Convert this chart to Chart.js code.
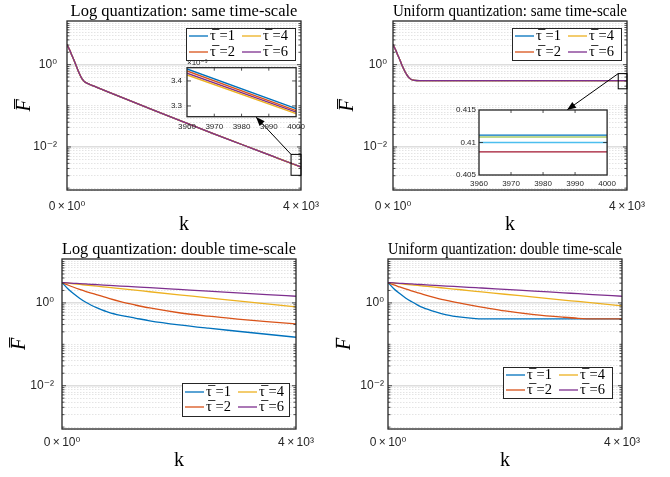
<!DOCTYPE html>
<html>
<head>
<meta charset="utf-8">
<title>Log vs uniform quantization</title>
<script src="https://cdn.jsdelivr.net/npm/chart.js@4.4.0/dist/chart.umd.min.js"></script>
<style>
  body { margin: 0; background: #fff; }
  #wrap { position: relative; width: 670px; height: 477px; overflow: hidden; }
  #wrap canvas { position: absolute; }
</style>
</head>
<body>
<div id="wrap">
  <canvas id="tl" width="335" height="240" style="left:0;top:0"></canvas>
  <canvas id="tr" width="335" height="240" style="left:335px;top:0"></canvas>
  <canvas id="bl" width="335" height="237" style="left:0;top:240px"></canvas>
  <canvas id="br" width="335" height="237" style="left:335px;top:240px"></canvas>
  <canvas id="tlInset" width="170" height="85" style="left:140px;top:52px"></canvas>
  <canvas id="trInset" width="190" height="92" style="left:430px;top:100px"></canvas>
</div>
<script>
// ---- data ----
const tauLabels = ['\u03C4\u0305 =1', '\u03C4\u0305 =2', '\u03C4\u0305 =4', '\u03C4\u0305 =6'];
const titles = ['Log quantization: same time-scale', 'Uniform quantization: same time-scale',
                'Log quantization: double time-scale', 'Uniform quantization: double time-scale'];

const xTickValues = [0, 4000];
const xTickLabels = ['0\u2009\u00D7\u200910\u2070', '4\u2009\u00D7\u200910\u00B3'];
const yMajor = [0.01, 1];
const yMajorLabels = ['10\u207B\u00B2', '10\u2070'];

// log quantization, same time-scale
const kLogSame = [0, 25, 50, 75, 100, 125, 150, 175, 200, 225, 250, 275, 300, 350, 400, 500, 700, 1000, 1500, 2000, 2500, 3000, 3500, 3960, 4000];
const logSame1 = [3.1, 2.6, 2.2, 1.8, 1.5, 1.22, 1.0, 0.81, 0.66, 0.55, 0.47, 0.42, 0.385, 0.35, 0.325, 0.285, 0.218, 0.1466, 0.0762, 0.0400, 0.0212, 0.01132, 0.00609, 0.003448, 0.003289];
const logSame2 = [3.1, 2.6, 2.2, 1.8, 1.5, 1.22, 1.0, 0.81, 0.66, 0.55, 0.47, 0.42, 0.385, 0.35, 0.325, 0.285, 0.218, 0.1466, 0.0762, 0.0400, 0.0212, 0.01132, 0.00607, 0.003440, 0.003281];
const logSame4 = [3.1, 2.6, 2.2, 1.8, 1.5, 1.22, 1.0, 0.81, 0.66, 0.55, 0.47, 0.42, 0.385, 0.35, 0.325, 0.285, 0.218, 0.1466, 0.0762, 0.0400, 0.0212, 0.01132, 0.00604, 0.003424, 0.003269];
const logSame6 = [3.1, 2.6, 2.2, 1.8, 1.5, 1.22, 1.0, 0.81, 0.66, 0.55, 0.47, 0.42, 0.385, 0.35, 0.325, 0.285, 0.218, 0.1466, 0.0762, 0.0400, 0.0212, 0.01132, 0.00605, 0.003431, 0.003275];

// uniform quantization, same time-scale
const kUniSame = [0, 25, 50, 75, 100, 125, 150, 175, 200, 225, 250, 275, 300, 325, 350, 375, 400, 450, 1000, 2000, 3000, 3960, 4000];
const uniSame1 = [3.1, 2.6, 2.2, 1.8, 1.5, 1.22, 1.0, 0.83, 0.7, 0.6, 0.53, 0.48, 0.45, 0.43, 0.42, 0.4145, 0.4118, 0.41115, 0.41115, 0.41115, 0.41115, 0.41115, 0.41115];
const uniSame2 = [3.1, 2.6, 2.2, 1.8, 1.5, 1.22, 1.0, 0.83, 0.7, 0.6, 0.53, 0.48, 0.45, 0.43, 0.42, 0.4142, 0.4115, 0.41085, 0.41085, 0.41085, 0.41085, 0.41085, 0.41085];
const uniSame4 = [3.1, 2.6, 2.2, 1.8, 1.5, 1.22, 1.0, 0.83, 0.7, 0.6, 0.53, 0.48, 0.45, 0.43, 0.42, 0.4135, 0.4107, 0.41000, 0.41000, 0.41000, 0.41000, 0.41000, 0.41000];
const uniSame6 = [3.1, 2.6, 2.2, 1.8, 1.5, 1.22, 1.0, 0.83, 0.7, 0.6, 0.53, 0.48, 0.45, 0.43, 0.42, 0.4125, 0.4094, 0.40855, 0.40855, 0.40855, 0.40855, 0.40855, 0.40855];

// log quantization, double time-scale
const kLogDouble = [0, 100, 200, 300, 400, 500, 600, 800, 1000, 1250, 1500, 2000, 2500, 3000, 3500, 4000];
const logDouble1 = [3.1, 2.2, 1.66, 1.3, 1.05, 0.88, 0.76, 0.59, 0.50, 0.43, 0.37, 0.295, 0.245, 0.207, 0.175, 0.148];
const logDouble2 = [3.1, 2.71, 2.39, 2.13, 1.91, 1.73, 1.56, 1.28, 1.07, 0.89, 0.755, 0.579, 0.477, 0.406, 0.352, 0.31];
const logDouble4 = [3.1, 3.0, 2.9, 2.8, 2.71, 2.62, 2.53, 2.37, 2.21, 2.03, 1.86, 1.57, 1.33, 1.12, 0.95, 0.8];
const logDouble6 = [3.1, 3.04, 2.98, 2.93, 2.87, 2.81, 2.76, 2.65, 2.55, 2.445, 2.33, 2.12, 1.93, 1.75, 1.59, 1.45];

// uniform quantization, double time-scale
const kUniDouble = [0, 100, 200, 300, 400, 500, 600, 800, 1000, 1250, 1500, 1600, 2000, 2500, 3000, 3250, 3500, 4000];
const uniDouble1 = [3.1, 2.2, 1.68, 1.32, 1.08, 0.9, 0.77, 0.615, 0.515, 0.452, 0.418, 0.412, 0.41, 0.41, 0.41, 0.41, 0.41, 0.41];
const uniDouble2 = [3.1, 2.72, 2.43, 2.17, 1.95, 1.77, 1.61, 1.35, 1.15, 0.975, 0.84, 0.795, 0.64, 0.52, 0.45, 0.425, 0.412, 0.41];
const uniDouble4 = [3.1, 3.0, 2.91, 2.82, 2.73, 2.64, 2.56, 2.41, 2.25, 2.08, 1.91, 1.85, 1.62, 1.38, 1.17, 1.085, 1.0, 0.85];
const uniDouble6 = [3.1, 3.04, 2.98, 2.93, 2.87, 2.81, 2.76, 2.65, 2.55, 2.445, 2.33, 2.29, 2.12, 1.93, 1.75, 1.67, 1.59, 1.45];

// zoom boxes [kMin, kMax, yMin, yMax] and inset axes
const zoomLogSame = [3830, 4000, 0.00205, 0.0066];
const zoomUniSame = [3850, 4000, 0.259, 0.606];
const insetXTicks = [3960, 3970, 3980, 3990, 4000];
const insetXLabels = ['3960', '3970', '3980', '3990', '4000'];
const insetLogYTicks = [0.0033, 0.0034];
const insetLogYLabels = ['3.3', '3.4'];
const insetUniYTicks = [0.405, 0.41, 0.415];
const insetUniYLabels = ['0.405', '0.41', '0.415'];

const COLORS = ['#0072BD', '#D95319', '#EDB120', '#7E2F8E'];
const INSET_UNI_COLORS = ['#0072BD', '#A9CB6A', '#4DBEEE', '#A2142F'];
const Y_MIN = 9e-4, Y_MAX = 11.5;
const SERIF = '"Liberation Serif", "DejaVu Serif", serif';
const SANS = '"Liberation Sans", "DejaVu Sans", Arial, sans-serif';
const AXIS = '#262626';
const TITLE_SIZE = 16.5, TITLE_LH = 18;

function pts(ks, vs) { return ks.map((k, i) => ({ x: k, y: vs[i] })); }
function majorIndex(v) { return yMajor.findIndex(m => Math.abs(m - v) < m * 1e-6); }
function logGrid(min, max) {
  const out = [];
  for (let e = -4; e <= 1; e++) for (let m = 1; m <= 9; m++) {
    const v = m * Math.pow(10, e);
    if (v >= min && v <= max) out.push({ value: v });
  }
  return out;
}

// ---- plugins ----
const frameBox = {
  id: 'frameBox',
  beforeDraw(chart, args, o) {
    if (!o.fill) return;
    const a = chart.chartArea, c = chart.ctx;
    c.save(); c.fillStyle = '#fff';
    c.fillRect(a.left, a.top, a.right - a.left, a.bottom - a.top);
    c.restore();
  },
  afterDatasetsDraw(chart, args, o) {
    const a = chart.chartArea, c = chart.ctx;
    c.save();
    c.strokeStyle = AXIS; c.lineWidth = 0.8;
    c.beginPath();
    const ys = chart.scales.y;
    ys.ticks.forEach(t => {
      const y = ys.getPixelForValue(t.value);
      if (y < a.top + 1 || y > a.bottom - 1) return;
      const len = t.label ? 4 : 2.5;
      c.moveTo(a.left, y); c.lineTo(a.left + len, y);
      c.moveTo(a.right, y); c.lineTo(a.right - len, y);
    });
    if (o.xTicks) {
      const xs = chart.scales.x;
      xs.ticks.forEach(t => {
        const x = xs.getPixelForValue(t.value);
        if (x < a.left + 1 || x > a.right - 1) return;
        c.moveTo(x, a.bottom); c.lineTo(x, a.bottom - 3);
        c.moveTo(x, a.top); c.lineTo(x, a.top + 3);
      });
    }
    c.stroke();
    c.lineWidth = 1.3;
    c.strokeRect(a.left, a.top, a.right - a.left, a.bottom - a.top);
    c.restore();
  }
};

const zoomMark = {
  id: 'zoomMark',
  afterDraw(chart, args, o) {
    if (!o.rect) return;
    const c = chart.ctx, xs = chart.scales.x, ys = chart.scales.y;
    const x1 = xs.getPixelForValue(o.rect[0]), x2 = xs.getPixelForValue(o.rect[1]);
    const y1 = ys.getPixelForValue(o.rect[3]), y2 = ys.getPixelForValue(o.rect[2]);
    c.save();
    c.strokeStyle = '#000'; c.lineWidth = 1;
    c.strokeRect(x1, y1, x2 - x1, y2 - y1);
    const [ax, ay] = o.arrowTo;
    c.beginPath(); c.moveTo(x1, y1); c.lineTo(ax, ay); c.stroke();
    const ang = Math.atan2(ay - y1, ax - x1);
    c.fillStyle = '#000';
    c.beginPath();
    c.moveTo(ax, ay);
    c.lineTo(ax - 9 * Math.cos(ang) + 3.5 * Math.sin(ang), ay - 9 * Math.sin(ang) - 3.5 * Math.cos(ang));
    c.lineTo(ax - 9 * Math.cos(ang) - 3.5 * Math.sin(ang), ay - 9 * Math.sin(ang) + 3.5 * Math.cos(ang));
    c.closePath(); c.fill();
    c.restore();
  }
};

const boxLegend = {
  id: 'boxLegend',
  afterDraw(chart, args, o) {
    if (!o.w) return;
    const c = chart.ctx;
    c.save();
    c.fillStyle = '#fff'; c.fillRect(o.x, o.y, o.w, o.h);
    c.strokeStyle = AXIS; c.lineWidth = 1;
    c.strokeRect(o.x + 0.5, o.y + 0.5, o.w, o.h);
    c.font = '14.5px ' + SERIF; c.textBaseline = 'middle';
    chart.data.datasets.forEach((d, i) => {
      const x0 = o.x + 3 + Math.floor(i / 2) * 53;
      const y0 = o.y + o.rows[i % 2];
      c.strokeStyle = d.borderColor; c.lineWidth = 1.3;
      c.beginPath(); c.moveTo(x0, y0); c.lineTo(x0 + 19, y0); c.stroke();
      c.fillStyle = '#000';
      c.fillText(d.label, x0 + 21, y0);
    });
    c.restore();
  }
};

// ---- charts ----
function mainChart(id, g, title, ks, series, mark) {
  return new Chart(document.getElementById(id), {
    type: 'line',
    data: {
      datasets: series.map((s, i) => ({
        label: tauLabels[i], data: pts(ks, s), borderColor: COLORS[i], backgroundColor: COLORS[i],
        borderWidth: 1.3, pointRadius: 0, cubicInterpolationMode: 'monotone', fill: false,
        order: series.length - i
      }))
    },
    options: {
      responsive: false, animation: false, events: [],
      layout: { padding: { left: 0, top: 0, right: g.W - g.right, bottom: 0 } },
      plugins: {
        legend: { display: false }, tooltip: { enabled: false },
        title: {
          display: true, text: title, fullSize: false, color: '#000',
          font: { family: SERIF, size: TITLE_SIZE, weight: 'normal', lineHeight: TITLE_LH / TITLE_SIZE },
          padding: { top: g.top - TITLE_LH - 0.5, bottom: 0.5 }
        },
        frameBox: {}, boxLegend: g.legend, zoomMark: mark || {}
      },
      scales: {
        x: {
          type: 'linear', min: 0, max: 4000,
          afterBuildTicks: s => { s.ticks = xTickValues.map(v => ({ value: v })); },
          afterFit: s => { s.height = g.H - g.bottom; },
          grid: { display: false, drawTicks: false }, border: { display: false },
          ticks: { padding: g.xPad, color: AXIS, autoSkip: false, maxRotation: 0,
                   font: { family: SANS, size: 12 }, callback: (v, i) => xTickLabels[i] },
          title: { display: true, text: 'k', color: '#000', font: { family: SERIF, size: 20, lineHeight: 1.2 },
                   padding: { top: 0, bottom: g.kPad } }
        },
        y: {
          type: 'logarithmic', min: Y_MIN, max: Y_MAX,
          afterBuildTicks: s => { s.ticks = logGrid(Y_MIN, Y_MAX); },
          afterFit: s => { s.width = g.left; },
          grid: {
            drawTicks: false,
            color: ctx => (ctx.tick && majorIndex(ctx.tick.value) >= 0) ? '#dedede' : '#e4e4e4',
            lineWidth: ctx => (ctx.tick && majorIndex(ctx.tick.value) >= 0) ? 1.5 : 1
          },
          border: { display: false, dash: ctx => (ctx.tick && majorIndex(ctx.tick.value) < 0) ? [1.5, 1.5] : [] },
          ticks: { padding: g.yPad, color: AXIS, autoSkip: false, font: { family: SANS, size: 12 },
                   callback: v => { const i = majorIndex(v); return i >= 0 ? yMajorLabels[i] : ''; } },
          title: { display: true, text: 'F\u0305', color: '#000',
                   font: { family: SERIF, size: 20, style: 'italic', lineHeight: 1 },
                   padding: { top: g.yTitlePad, bottom: 0 } }
        }
      }
    },
    plugins: [frameBox, boxLegend, zoomMark]
  });
}

function insetChart(id, g, ks, series, colors, yr, yTicks, yLabels, expText) {
  return new Chart(document.getElementById(id), {
    type: 'line',
    data: {
      datasets: series.map((s, i) => ({
        label: tauLabels[i], data: pts(ks, s), borderColor: colors[i],
        borderWidth: 1.3, pointRadius: 0, fill: false
      }))
    },
    options: {
      responsive: false, animation: false, events: [],
      layout: { padding: { left: 0, top: expText ? 0 : g.top, right: g.W - g.right, bottom: 0 } },
      plugins: {
        legend: { display: false }, tooltip: { enabled: false },
        title: {
          display: !!expText, text: expText || '', align: 'start', fullSize: false, color: AXIS,
          font: { family: SANS, size: 8, weight: 'normal', lineHeight: 1.2 },
          padding: { top: g.top - 9.6, bottom: 0 }
        },
        frameBox: { fill: true, xTicks: true }
      },
      scales: {
        x: {
          type: 'linear', min: insetXTicks[0], max: insetXTicks[insetXTicks.length - 1],
          afterBuildTicks: s => { s.ticks = insetXTicks.map(v => ({ value: v })); },
          afterFit: s => { s.height = g.H - g.bottom; },
          grid: { display: false, drawTicks: false }, border: { display: false },
          ticks: { padding: g.xPad, color: AXIS, autoSkip: false, maxRotation: 0,
                   font: { family: SANS, size: 8 }, callback: (v, i) => insetXLabels[i] }
        },
        y: {
          type: 'linear', min: yr[0], max: yr[1],
          afterBuildTicks: s => { s.ticks = yTicks.map(v => ({ value: v })); },
          afterFit: s => { s.width = g.left; },
          grid: { display: false, drawTicks: false }, border: { display: false },
          ticks: { padding: g.yPad, color: AXIS, autoSkip: false,
                   font: { family: SANS, size: 8 }, callback: (v, i) => yLabels[i] }
        }
      }
    },
    plugins: [frameBox]
  });
}

mainChart('tl', { W: 335, H: 240, left: 67, top: 21, right: 301, bottom: 190, yPad: 10, yTitlePad: 15, xPad: 9, kPad: 3,
                  legend: { x: 186, y: 28, w: 109, h: 32, rows: [8, 24] } },
          titles[0], kLogSame, [logSame1, logSame2, logSame4, logSame6],
          { rect: zoomLogSame, arrowTo: [256, 117] });
mainChart('tr', { W: 335, H: 240, left: 58, top: 21, right: 292, bottom: 190, yPad: 6, yTitlePad: 3, xPad: 9, kPad: 3,
                  legend: { x: 177, y: 28, w: 109, h: 32, rows: [8, 24] } },
          titles[1], kUniSame, [uniSame1, uniSame2, uniSame4, uniSame6],
          { rect: zoomUniSame, arrowTo: [232, 110] });
mainChart('bl', { W: 335, H: 237, left: 62, top: 19, right: 296, bottom: 189, yPad: 8, yTitlePad: 10, xPad: 6, kPad: 4,
                  legend: { x: 182, y: 143, w: 107, h: 33, rows: [9, 24] } },
          titles[2], kLogDouble, [logDouble1, logDouble2, logDouble4, logDouble6]);
mainChart('br', { W: 335, H: 237, left: 53, top: 19, right: 287, bottom: 189, yPad: 4, yTitlePad: 0, xPad: 6, kPad: 4,
                  legend: { x: 168, y: 127, w: 109, h: 31, rows: [8, 23] } },
          titles[3], kUniDouble, [uniDouble1, uniDouble2, uniDouble4, uniDouble6]);

insetChart('tlInset', { W: 170, H: 85, left: 47, top: 15.7, right: 158, bottom: 64.7, yPad: 5, xPad: 5 },
           kLogSame, [logSame1, logSame2, logSame4, logSame6], COLORS,
           [0.003257, 0.003453], insetLogYTicks, insetLogYLabels, '\u00D710\u207B\u00B3');
insetChart('trInset', { W: 190, H: 92, left: 49, top: 10, right: 179, bottom: 75, yPad: 3, xPad: 4 },
           kUniSame, [uniSame1, uniSame2, uniSame4, uniSame6], INSET_UNI_COLORS,
           [0.405, 0.415], insetUniYTicks, insetUniYLabels, null);
</script>
</body>
</html>
